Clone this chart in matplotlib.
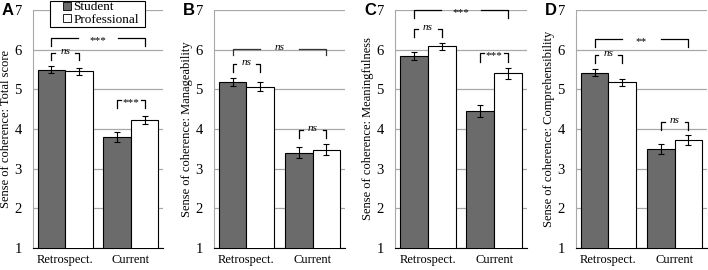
import numpy as np
import matplotlib
matplotlib.use('Agg')
import matplotlib.pyplot as plt
from matplotlib.lines import Line2D
from matplotlib.patches import Rectangle

plt.rcParams['font.family'] = ['Liberation Serif', 'DejaVu Serif']

groups = ['Retrospect.', 'Current']
panels = ['A', 'B', 'C', 'D']
ylabels = ['Sense of coherence: Total score', 'Sense of coherence: Manageability',
           'Sense of coherence: Meaningfulness', 'Sense of coherence: Comprehensibility']

student = [[5.50, 3.80], [5.18, 3.40], [5.85, 4.45], [5.42, 3.50]]
student_err = [[0.08, 0.12], [0.10, 0.14], [0.10, 0.16], [0.09, 0.13]]
professional = [[5.45, 4.22], [5.07, 3.48], [6.08, 5.40], [5.18, 3.72]]
professional_err = [[0.08, 0.10], [0.11, 0.14], [0.10, 0.15], [0.09, 0.12]]

# bracket levels (top, drop) and labels
small_retro = [(5.91, 5.74, 'ns'), (5.63, 5.43, 'ns'), (6.51, 6.31, 'ns'), (5.86, 5.66, 'ns')]
small_curr = [(4.73, 4.53, '***'), (3.97, 3.77, 'ns'), (5.91, 5.69, '***'), (4.17, 3.97, 'ns')]
big = [(6.29, 6.09, '***'), (6.02, 5.86, 'ns'), (6.99, 6.79, '***'), (6.26, 6.07, '**')]

dark = '#6b6b6b'
grid_c = '#a8a8a8'
w = 0.42

lefts = [33, 214, 395, 576]
rights = [163, 345, 527, 707]
W, H = 708, 270

fig = plt.figure(figsize=(7.08, 2.7), dpi=100)


def bracket(ax, x1, x2, top, drop, txt, gap, color='black'):
    xc = (x1 + x2) / 2
    ax.plot([x1, x1, xc - gap], [drop, top, top], color=color, lw=0.9, clip_on=False)
    ax.plot([xc + gap, x2, x2], [top, top, drop], color=color, lw=0.9, clip_on=False)
    if txt == 'ns':
        ax.text(xc, top + 0.04, txt, ha='center', va='center', fontsize=8, style='italic')
    else:
        ax.text(xc, top - 0.06, txt, ha='center', va='center', fontsize=8)


for i in range(4):
    ax = fig.add_axes([lefts[i] / W, 1 - 248 / H, (rights[i] - lefts[i]) / W, 238 / H])
    x = np.arange(len(groups))
    ax.bar(x - w / 2, student[i], w, color=dark, edgecolor='black', lw=0.8, zorder=3)
    ax.bar(x + w / 2, professional[i], w, color='white', edgecolor='black', lw=0.8, zorder=3)
    ax.errorbar(x - w / 2, student[i], yerr=student_err[i], fmt='none', ecolor='black',
                elinewidth=0.8, capsize=2.5, capthick=0.8, zorder=4)
    ax.errorbar(x + w / 2, professional[i], yerr=professional_err[i], fmt='none', ecolor='black',
                elinewidth=0.8, capsize=2.5, capthick=0.8, zorder=4)
    ax.set_ylim(1, 7)
    ax.set_xlim(-0.49, 1.49)
    ax.set_yticks(range(1, 8))
    ax.set_xticks(x)
    ax.set_xticklabels(groups, fontsize=9)
    ax.tick_params(axis='both', length=0)
    ax.tick_params(axis='y', pad=8, labelsize=10.5)
    ax.tick_params(axis='x', pad=4)
    ax.yaxis.grid(True, color=grid_c, lw=0.9, zorder=0)
    ax.set_axisbelow(True)
    for s in ['top', 'right']:
        ax.spines[s].set_visible(False)
    ax.spines['left'].set_color(grid_c)
    ax.spines['bottom'].set_color('black')
    ax.set_ylabel(ylabels[i], fontsize=9, labelpad=2)

    t, d, s = small_retro[i]
    bracket(ax, -w / 2, w / 2, t, d, s, 0.15)
    t, d, s = small_curr[i]
    bracket(ax, 1 - w / 2, 1 + w / 2, t, d, s, 0.15)
    t, d, s = big[i]
    bracket(ax, -w / 2, 1 + w / 2, t, d, s, 0.3, color='#333333' if i == 1 else 'black')

    fig.text((lefts[i] - 31) / W, 1 - 3 / H, panels[i], fontsize=12, fontweight='bold',
             family='Liberation Sans', va='top', ha='left')

# legend box drawn at fixed place over panel A
fig.patches.append(Rectangle((50 / W, 1 - 27 / H), 95 / W, 26 / H, transform=fig.transFigure,
                             facecolor='white', edgecolor='black', lw=0.8, zorder=5))
handles = [Line2D([], [], ls='none', marker='s', markersize=6, markerfacecolor=dark,
                  markeredgecolor='black', markeredgewidth=0.6),
           Line2D([], [], ls='none', marker='s', markersize=6, markerfacecolor='white',
                  markeredgecolor='black', markeredgewidth=0.6)]
leg = fig.legend(handles, ['Student', 'Professional'], loc='upper left',
                 bbox_to_anchor=(61 / W, 1 - 0.5 / H), fontsize=9.5, frameon=False,
                 handlelength=0.8, handletextpad=0.1, borderpad=0.05, labelspacing=0.0,
                 borderaxespad=0)
leg.set_zorder(6)

fig.savefig('out.png', dpi=100)
